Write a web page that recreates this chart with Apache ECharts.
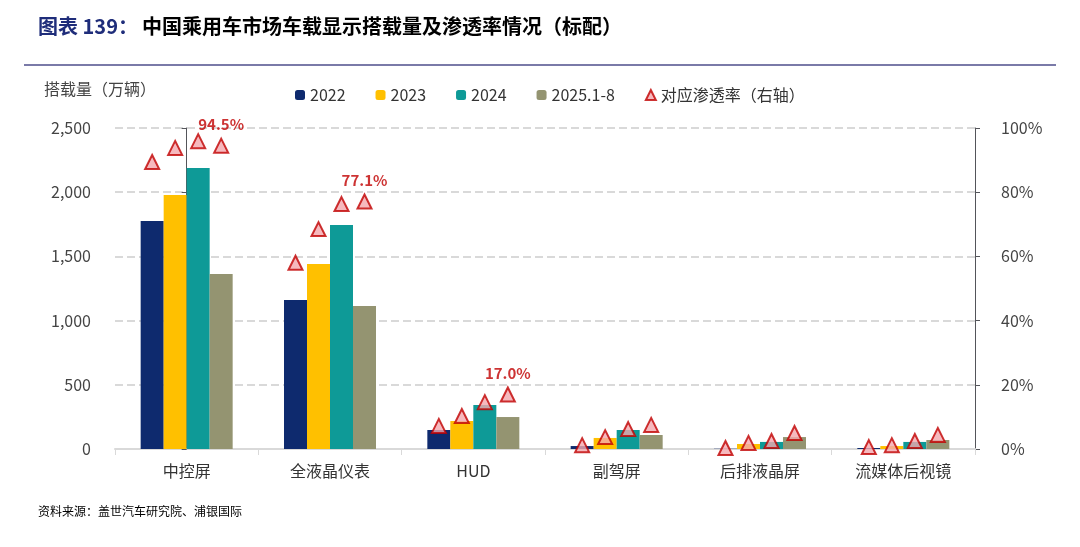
<html>
<head>
<meta charset="utf-8" />
<script src="https://cdn.jsdelivr.net/npm/echarts@6/dist/echarts.min.js"></script>
</head>
<body>
<style>
  html, body, #main { width: 100%; height: 100%; margin: 0; background: #fff; }
</style>
<div id="main"></div>
<script>
  var categories = ['中控屏', '全液晶仪表', 'HUD', '副驾屏', '后排液晶屏', '流媒体后视镜'];
  var years = ['2022', '2023', '2024', '2025.1-8'];
  var volume2022 = [1776, 1160, 148, 23, 2, 8];
  var volume2023 = [1978, 1441, 218, 86, 39, 23];
  var volume2024 = [2188, 1745, 343, 148, 55, 55];
  var volume2025 = [1363, 1114, 249, 109, 93, 70];
  // penetration per category, one value per year
  var rate = [
    [89.4, 93.8, 95.9, 94.5],
    [58.0, 68.5, 76.3, 77.1],
    [7.2, 10.3, 14.6, 17.0],
    [1.2, 3.7, 6.2, 7.5],
    [0.3, 1.9, 2.5, 5.0],
    [0.6, 1.2, 2.5, 4.4]
  ];
  var labelled = [0, 1, 2];
  var colors = ['#0e2a6e', '#ffc000', '#0e9a97', '#949471'];

  var chart = echarts.init(document.getElementById('main'));
  var font = '"Noto Sans CJK SC", sans-serif';
  var vols = [volume2022, volume2023, volume2024, volume2025];

  var barSeries = years.map(function (y, i) {
    return {
      name: y, type: 'bar', data: vols[i], barWidth: 23, barGap: '0%',
      itemStyle: { color: colors[i] }, xAxisIndex: 0, yAxisIndex: 0
    };
  });

  // scatter points placed on a value x axis (category index + offset per year)
  var offsets = [-1.5, -0.5, 0.5, 1.5];
  var pts = [];
  rate.forEach(function (r, c) {
    r.forEach(function (v, j) {
      var p = { value: [c + offsets[j] * 23 / 143.3, v] };
      if (j === 3 && labelled.indexOf(c) >= 0) {
        p.label = { show: true, position: 'top', formatter: v.toFixed(1) + '%',
          color: '#c00000', fontWeight: 'bold', fontSize: 15, fontFamily: font, distance: 6 };
      }
      pts.push(p);
    });
  });

  chart.setOption({
    textStyle: { fontFamily: font },
    graphic: [
      { type: 'text', left: 38, top: 16, style: { text: '图表 139：', fill: '#1f2d7a', font: 'bold 20px ' + font } },
      { type: 'text', left: 142, top: 16, style: { text: '中国乘用车市场车载显示搭载量及渗透率情况（标配）', fill: '#000', font: 'bold 20px ' + font } },
      { type: 'rect', shape: { x: 24, y: 64, width: 1032, height: 2 }, style: { fill: '#7a7aa8' } },
      { type: 'text', left: 44, top: 81, style: { text: '搭载量（万辆）', fill: '#444', font: '16px ' + font } },
      { type: 'text', left: 38, top: 505, style: { text: '资料来源：盖世汽车研究院、浦银国际', fill: '#000', font: '12px ' + font } }
    ],
    legend: {
      top: 82, left: 290, itemWidth: 10, itemHeight: 10, itemGap: 30,
      textStyle: { fontSize: 16, color: '#333' },
      data: years.concat([{ name: '对应渗透率（右轴）', icon: 'triangle' }])
    },
    grid: { left: 115, right: 105, top: 128, bottom: 98 },
    xAxis: [
      { type: 'category', data: categories, axisTick: { show: true, length: 6, lineStyle: { color: '#d9d9d9' } },
        axisLine: { lineStyle: { color: '#d9d9d9', width: 2 } },
        axisLabel: { fontSize: 16, color: '#333', margin: 14 } },
      { type: 'value', min: -0.5, max: 5.5, show: false }
    ],
    yAxis: [
      { type: 'value', min: 0, max: 2500, interval: 500,
        axisLabel: { fontSize: 16, color: '#444', margin: 24, formatter: function (v) { return v.toLocaleString('en-US'); } },
        splitLine: { lineStyle: { type: 'dashed', color: '#d9d9d9', width: 2 } } },
      { type: 'value', min: 0, max: 100, interval: 20, position: 'right',
        axisLabel: { fontSize: 16, color: '#444', margin: 26, formatter: '{value}%' },
        splitLine: { show: false } }
    ],
    series: barSeries.concat([{
      name: '对应渗透率（右轴）', type: 'scatter', symbol: 'triangle', symbolSize: 14,
      xAxisIndex: 1, yAxisIndex: 1, data: pts, z: 5,
      itemStyle: { color: '#f4a8ae', borderColor: '#c00000', borderWidth: 2 }
    }])
  });
  window.onresize = function () { chart.resize(); };
</script>
</body>
</html>
